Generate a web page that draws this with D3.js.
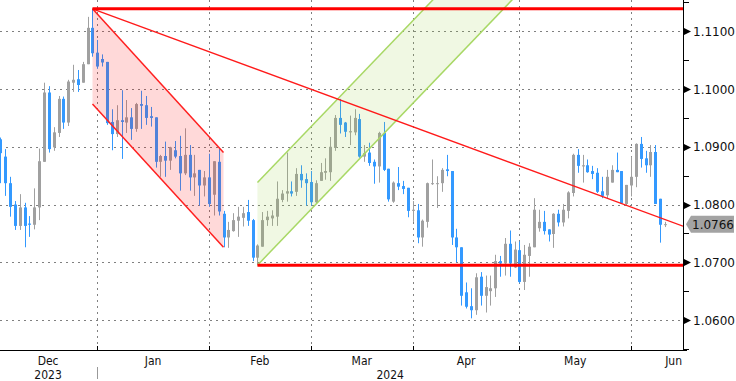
<!DOCTYPE html>
<meta charset="utf-8">
<style>
  body { margin: 0; background: #fff; }
  svg { display: block; }
  .grid line { stroke: #808080; stroke-width: 1; stroke-dasharray: 2,4; }
  .lbl { font-family: "DejaVu Sans", sans-serif; font-size: 12px; fill: #111; }
  .xlbl { font-family: "DejaVu Sans Condensed", "DejaVu Sans", sans-serif; font-size: 12px; fill: #111; }
</style>

<svg width="736" height="381"></svg>
<script src="https://cdn.jsdelivr.net/npm/d3@7"></script>

<script>
const svg = d3.select("svg"),
  plotW = 683,
  plotH = 350;

// daily bars, weekdays from 1 Dec 2023 to 11 Jun 2024 (holidays included, as in the feed)
const dates = d3.utcDay.range(new Date(Date.UTC(2023, 11, 1)), new Date(Date.UTC(2024, 5, 12)))
  .filter(d => d.getUTCDay() % 6 !== 0);

const open = [
  1.0913, 1.0883, 1.0837, 1.0800, 1.0763, 1.0795, 1.0767, 1.0765, 1.0795, 1.0874,
  1.0994, 1.0899, 1.0924, 1.0983, 1.0942, 1.1011, 1.1017, 1.1011, 1.1043, 1.1106,
  1.1063, 1.1052, 1.1047, 1.0943, 1.0922, 1.0946, 1.0942, 1.0951, 1.0931, 1.0974,
  1.0972, 1.0953, 1.0951, 1.0874, 1.0884, 1.0876, 1.0894, 1.0884, 1.0854, 1.0886,
  1.0847, 1.0860, 1.0833, 1.0847, 1.0817, 1.0874, 1.0784, 1.0743, 1.0754, 1.0772,
  1.0777, 1.0787, 1.0773, 1.0708, 1.0727, 1.0773, 1.0776, 1.0779, 1.0808, 1.0819,
  1.0823, 1.0822, 1.0853, 1.0844, 1.0839, 1.0804, 1.0841, 1.0855, 1.0856, 1.0898,
  1.0950, 1.0942, 1.0925, 1.0925, 1.0948, 1.0883, 1.0890, 1.0874, 1.0866, 1.0924,
  1.0862, 1.0805, 1.0837, 1.0832, 1.0829, 1.0789, 1.0790, 1.0743, 1.0770, 1.0836,
  1.0836, 1.0837, 1.0861, 1.0858, 1.0743, 1.0726, 1.0648, 1.0624, 1.0617, 1.0675,
  1.0642, 1.0650, 1.0655, 1.0702, 1.0698, 1.0732, 1.0691, 1.0721, 1.0666, 1.0711,
  1.0726, 1.0759, 1.0770, 1.0757, 1.0749, 1.0784, 1.0769, 1.0789, 1.0820, 1.0886,
  1.0866, 1.0868, 1.0858, 1.0855, 1.0823, 1.0816, 1.0838, 1.0860, 1.0858, 1.0801,
  1.0833, 1.0848, 1.0905, 1.0880, 1.0868, 1.0891, 1.0810, 1.0766
];
const high = [
  1.0916, 1.0896, 1.0848, 1.0806, 1.0818, 1.0803, 1.0780, 1.0828, 1.0897, 1.1011,
  1.1005, 1.0934, 1.0988, 1.0987, 1.1016, 1.1042, 1.1033, 1.1047, 1.1125, 1.1139,
  1.1085, 1.1060, 1.1047, 1.0965, 1.0972, 1.0998, 1.0981, 1.0967, 1.0976, 1.0997,
  1.0988, 1.0969, 1.0951, 1.0886, 1.0909, 1.0900, 1.0910, 1.0919, 1.0932, 1.0903,
  1.0886, 1.0860, 1.0858, 1.0888, 1.0875, 1.0897, 1.0789, 1.0770, 1.0785, 1.0796,
  1.0796, 1.0808, 1.0775, 1.0731, 1.0787, 1.0789, 1.0790, 1.0840, 1.0825, 1.0890,
  1.0840, 1.0863, 1.0868, 1.0854, 1.0858, 1.0842, 1.0872, 1.0880, 1.0917, 1.0955,
  1.0983, 1.0943, 1.0954, 1.0965, 1.0957, 1.0903, 1.0907, 1.0878, 1.0926, 1.0943,
  1.0862, 1.0840, 1.0865, 1.0841, 1.0829, 1.0806, 1.0801, 1.0774, 1.0838, 1.0878,
  1.0849, 1.0863, 1.0886, 1.0858, 1.0758, 1.0726, 1.0665, 1.0655, 1.0681, 1.0683,
  1.0677, 1.0677, 1.0713, 1.0711, 1.0742, 1.0755, 1.0736, 1.0736, 1.0730, 1.0733,
  1.0811, 1.0791, 1.0789, 1.0757, 1.0785, 1.0791, 1.0801, 1.0823, 1.0888, 1.0896,
  1.0886, 1.0878, 1.0867, 1.0863, 1.0848, 1.0860, 1.0868, 1.0890, 1.0858, 1.0834,
  1.0883, 1.0906, 1.0917, 1.0893, 1.0903, 1.0903, 1.0810, 1.0770
];
const low = [
  1.0837, 1.0815, 1.0779, 1.0756, 1.0756, 1.0726, 1.0744, 1.0757, 1.0773, 1.0874,
  1.0890, 1.0893, 1.0917, 1.0931, 1.0936, 1.0995, 1.0995, 1.1011, 1.1043, 1.1056,
  1.1035, 1.1039, 1.0938, 1.0894, 1.0917, 1.0879, 1.0924, 1.0912, 1.0926, 1.0931,
  1.0938, 1.0935, 1.0864, 1.0848, 1.0848, 1.0860, 1.0880, 1.0824, 1.0851, 1.0824,
  1.0815, 1.0798, 1.0814, 1.0796, 1.0781, 1.0781, 1.0726, 1.0725, 1.0753, 1.0744,
  1.0762, 1.0763, 1.0702, 1.0695, 1.0727, 1.0763, 1.0763, 1.0763, 1.0804, 1.0805,
  1.0814, 1.0815, 1.0829, 1.0798, 1.0798, 1.0802, 1.0841, 1.0843, 1.0841, 1.0893,
  1.0923, 1.0917, 1.0903, 1.0920, 1.0881, 1.0874, 1.0867, 1.0836, 1.0838, 1.0858,
  1.0805, 1.0803, 1.0825, 1.0818, 1.0778, 1.0770, 1.0733, 1.0727, 1.0760, 1.0834,
  1.0794, 1.0822, 1.0849, 1.0730, 1.0700, 1.0625, 1.0620, 1.0603, 1.0609, 1.0625,
  1.0613, 1.0625, 1.0640, 1.0675, 1.0677, 1.0675, 1.0690, 1.0664, 1.0652, 1.0675,
  1.0726, 1.0753, 1.0748, 1.0736, 1.0725, 1.0762, 1.0762, 1.0776, 1.0814, 1.0855,
  1.0838, 1.0855, 1.0844, 1.0820, 1.0811, 1.0811, 1.0838, 1.0856, 1.0801, 1.0798,
  1.0814, 1.0830, 1.0864, 1.0855, 1.0848, 1.0801, 1.0734, 1.0761
];
const close = [
  1.0889, 1.0837, 1.0796, 1.0763, 1.0795, 1.0763, 1.0765, 1.0795, 1.0875, 1.0994,
  1.0896, 1.0925, 1.0983, 1.0942, 1.1013, 1.1016, 1.1007, 1.1043, 1.1106, 1.1062,
  1.1039, 1.1046, 1.0941, 1.0922, 1.0946, 1.0943, 1.0951, 1.0931, 1.0974, 1.0971,
  1.0950, 1.0950, 1.0874, 1.0884, 1.0876, 1.0899, 1.0883, 1.0854, 1.0886, 1.0847,
  1.0854, 1.0833, 1.0847, 1.0801, 1.0875, 1.0788, 1.0743, 1.0756, 1.0773, 1.0779,
  1.0785, 1.0772, 1.0708, 1.0729, 1.0773, 1.0779, 1.0781, 1.0810, 1.0819, 1.0823,
  1.0819, 1.0853, 1.0842, 1.0837, 1.0804, 1.0837, 1.0856, 1.0858, 1.0900, 1.0950,
  1.0938, 1.0926, 1.0927, 1.0950, 1.0883, 1.0889, 1.0872, 1.0866, 1.0924, 1.0860,
  1.0809, 1.0838, 1.0831, 1.0827, 1.0789, 1.0791, 1.0743, 1.0772, 1.0837, 1.0837,
  1.0837, 1.0860, 1.0858, 1.0743, 1.0726, 1.0642, 1.0623, 1.0617, 1.0674, 1.0642,
  1.0657, 1.0655, 1.0702, 1.0698, 1.0732, 1.0698, 1.0722, 1.0666, 1.0713, 1.0727,
  1.0791, 1.0770, 1.0754, 1.0748, 1.0784, 1.0769, 1.0791, 1.0821, 1.0886, 1.0867,
  1.0868, 1.0856, 1.0853, 1.0822, 1.0815, 1.0848, 1.0860, 1.0856, 1.0802, 1.0834,
  1.0848, 1.0905, 1.0879, 1.0868, 1.0891, 1.0801, 1.0765, 1.0766
];

const yTicks = [1.06, 1.07, 1.08, 1.09, 1.10, 1.11];
const yMinor = [1.055, 1.065, 1.075, 1.085, 1.095, 1.105, 1.115];
const monthNames = ["Dec", "Jan", "Feb", "Mar", "Apr", "May", "Jun"];
const years = ["2023", "2024"];
const lastPrice = 1.0766;

// drawn studies: [bar index, price]
const resistance = [[19, 1.1139]];
const support = [[53, 1.0695]];
const trend = [[19, 1.1139], [137, 1.0774]];
const redUpper = [[19, 1.1139], [46, 1.0890]];
const redLower = [[19, 1.0974], [46, 1.0726]];
const greenLower = [[53, 1.0695], [110, 1.1194]];
const greenUpper = [[53, 1.0838], [110, 1.1337]];

const bars = dates.map((d, i) => ({ i: i, date: d, o: open[i], h: high[i], l: low[i], c: close[i] }));

const x = d3.scaleLinear().domain([-0.062, 140.7]).range([0, plotW]);
const y = d3.scaleLinear().domain([1.05481, 1.11542]).range([plotH, 0]);

svg.append("defs").append("clipPath").attr("id", "plot")
  .append("rect").attr("width", plotW).attr("height", plotH);

// month ends
const monthEnds = [];
bars.forEach((b, i) => {
  const nx = bars[i + 1];
  if (nx && nx.date.getUTCMonth() !== b.date.getUTCMonth()) monthEnds.push(i);
});

const grid = svg.append("g").attr("class", "grid");
grid.selectAll(".h").data(yTicks).enter().append("line")
  .attr("x1", 0).attr("x2", plotW)
  .attr("y1", d => Math.round(y(d)) + 0.5).attr("y2", d => Math.round(y(d)) + 0.5);
grid.selectAll(".v").data(monthEnds).enter().append("line")
  .attr("x1", d => Math.round(x(d)) + 0.5).attr("x2", d => Math.round(x(d)) + 0.5)
  .attr("y1", 0).attr("y2", plotH);

const plot = svg.append("g").attr("clip-path", "url(#plot)");

// candles
const up = "#a0a0a0", down = "#3399ff";
const cx = d => Math.round(x(d.i));
const candle = plot.append("g").selectAll("g").data(bars).enter().append("g");
candle.append("line")
  .attr("x1", d => cx(d) + 0.5).attr("x2", d => cx(d) + 0.5)
  .attr("y1", d => y(d.h)).attr("y2", d => y(d.l))
  .attr("stroke", d => d.c >= d.o ? up : down);
candle.append("rect")
  .attr("x", d => cx(d) - 1).attr("width", 3)
  .attr("y", d => y(Math.max(d.o, d.c)))
  .attr("height", d => Math.max(1, Math.abs(y(d.o) - y(d.c))))
  .attr("fill", d => d.c >= d.o ? up : down);

const px = p => [x(p[0]), y(p[1])];

// channels
function channel(a, b, fill, stroke) {
  const pts = [px(a[0]), px(a[1]), px(b[1]), px(b[0])];
  plot.append("path").attr("d", "M" + pts.join("L") + "Z").attr("fill", fill);
  [a, b].forEach(l => plot.append("line")
    .attr("x1", px(l[0])[0]).attr("y1", px(l[0])[1])
    .attr("x2", px(l[1])[0]).attr("y2", px(l[1])[1])
    .attr("stroke", stroke).attr("stroke-width", 1.5));
}
channel(redUpper, redLower, "rgba(255,0,0,0.15)", "#ff2020");
channel(greenUpper, greenLower, "rgba(150,205,60,0.14)", "#a8d865");

// trend line extended to the axis
const tSlope = (trend[1][1] - trend[0][1]) / (trend[1][0] - trend[0][0]);
const xEnd = x.domain()[1];
plot.append("line")
  .attr("x1", x(trend[0][0])).attr("y1", y(trend[0][1]))
  .attr("x2", x(xEnd)).attr("y2", y(trend[0][1] + tSlope * (xEnd - trend[0][0])))
  .attr("stroke", "#ff1a1a").attr("stroke-width", 1.3);

// horizontal levels
[resistance, support].forEach(l => plot.append("line")
  .attr("x1", x(l[0][0])).attr("x2", plotW)
  .attr("y1", y(l[0][1])).attr("y2", y(l[0][1]))
  .attr("stroke", "#ff0000").attr("stroke-width", 3));

// y axis
const ax = svg.append("g");
ax.append("line").attr("x1", plotW + 0.5).attr("x2", plotW + 0.5).attr("y1", 0).attr("y2", plotH + 0.5)
  .attr("stroke", "#000");
ax.append("line").attr("x1", 0).attr("x2", plotW + 4).attr("y1", plotH + 0.5).attr("y2", plotH + 0.5)
  .attr("stroke", "#000");
ax.selectAll(".mn").data(yMinor).enter().append("line")
  .attr("x1", plotW).attr("x2", plotW + 6)
  .attr("y1", d => Math.round(y(d)) + 0.5).attr("y2", d => Math.round(y(d)) + 0.5)
  .attr("stroke", "#000");
ax.selectAll(".tri").data(yTicks).enter().append("path")
  .attr("d", d => { const yy = Math.round(y(d)) + 0.5; return `M${plotW + 1},${yy - 3.5}L${plotW + 8},${yy}L${plotW + 1},${yy + 3.5}Z`; })
  .attr("fill", "#000");
ax.selectAll(".tl").data(yTicks).enter().append("text")
  .attr("class", "lbl")
  .attr("x", plotW + 10).attr("y", d => y(d) + 4.5)
  .text(d => d3.format(".4f")(d));

// last price tag
const yl = y(lastPrice);
ax.append("path")
  .attr("d", `M${plotW + 3},${yl}L${plotW + 8},${yl - 8.5}L${plotW + 51},${yl - 8.5}L${plotW + 51},${yl + 8.5}L${plotW + 8},${yl + 8.5}Z`)
  .attr("fill", "#a3a3a3");
ax.append("text").attr("class", "lbl")
  .attr("x", plotW + 9).attr("y", yl + 4.5)
  .text(d3.format(".4f")(lastPrice));

// x axis: month ticks and labels
ax.selectAll(".mt").data(monthEnds).enter().append("line")
  .attr("x1", d => Math.round(x(d)) + 0.5).attr("x2", d => Math.round(x(d)) + 0.5)
  .attr("y1", plotH - 4).attr("y2", plotH)
  .attr("stroke", "#000");

const bounds = [x(-0.3)].concat(monthEnds.map(d => x(d)), [plotW + 40]);
ax.selectAll(".ml").data(monthNames).enter().append("text")
  .attr("class", "xlbl")
  .attr("text-anchor", (d, i) => i === monthNames.length - 1 ? "end" : "middle")
  .attr("x", (d, i) => i === monthNames.length - 1 ? plotW - 1 : (bounds[i] + bounds[i + 1]) / 2)
  .attr("y", plotH + 15)
  .text(d => d);

ax.selectAll(".yr").data(years).enter().append("text")
  .attr("class", "xlbl")
  .attr("text-anchor", "middle")
  .attr("x", (d, i) => i === 0 ? (bounds[0] + bounds[1]) / 2 : (bounds[1] + plotW) / 2)
  .attr("y", plotH + 29)
  .text(d => d);
ax.append("line")
  .attr("x1", Math.round(x(monthEnds[0])) + 0.5).attr("x2", Math.round(x(monthEnds[0])) + 0.5)
  .attr("y1", plotH + 17).attr("y2", plotH + 29)
  .attr("stroke", "#999");
</script>
